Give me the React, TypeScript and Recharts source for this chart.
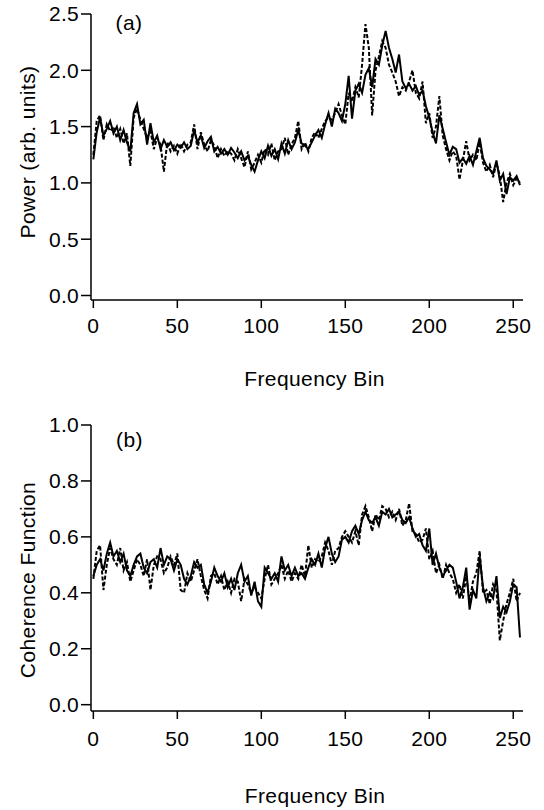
import type { CSSProperties, ReactElement } from 'react';
import { Line, LineChart, XAxis, YAxis } from 'recharts';

// Frequency bins are sampled every 2 bins (0, 2, ... 254)
const BIN_STEP = 2;

const X_TICKS = [0, 50, 100, 150, 200, 250];
const POWER_TICKS = [0, 0.5, 1, 1.5, 2, 2.5];
const COHERENCE_TICKS = [0, 0.2, 0.4, 0.6, 0.8, 1];

// panel (a) power, solid trace
const POWER_SOLID = [
  1.21, 1.45, 1.58, 1.42, 1.48, 1.55, 1.44, 1.5, 1.38, 1.47, 1.36, 1.28, 1.62, 1.7, 1.52, 1.56,
  1.34, 1.53, 1.36, 1.42, 1.3, 1.38, 1.32, 1.36, 1.29, 1.34, 1.31, 1.36, 1.3, 1.33, 1.47, 1.36,
  1.42, 1.31, 1.37, 1.41, 1.28, 1.32, 1.26, 1.3, 1.25, 1.31, 1.27, 1.22, 1.28, 1.2, 1.24, 1.16,
  1.1, 1.2, 1.28, 1.22, 1.33, 1.24, 1.3, 1.21, 1.35, 1.26, 1.38, 1.3, 1.36, 1.47, 1.35, 1.33,
  1.3, 1.36, 1.42, 1.47, 1.4, 1.52, 1.62, 1.5, 1.66, 1.62, 1.55, 1.7, 1.95, 1.57, 1.82, 1.88,
  1.8, 1.96, 2.02, 1.85, 2.1, 2.05, 2.22, 2.35, 2.2, 2.1, 1.98, 2.14, 1.9, 1.84, 1.88, 1.82,
  1.86, 1.78, 1.82, 1.68, 1.58, 1.45, 1.35, 1.6, 1.48, 1.36, 1.25, 1.32, 1.3, 1.18, 1.22, 1.17,
  1.24, 1.16, 1.28, 1.4, 1.22, 1.15, 1.12, 1.08, 1.2, 1.02, 1.08, 0.9, 1.05, 1.02, 1.06, 0.98,
];

// panel (a) power, dashed trace
const POWER_DASHED = [
  1.25, 1.55, 1.6, 1.38, 1.52, 1.46, 1.5, 1.4, 1.48, 1.35, 1.44, 1.15, 1.58, 1.66, 1.56, 1.48,
  1.4, 1.46, 1.3, 1.4, 1.34, 1.1, 1.36, 1.28, 1.33, 1.26, 1.35, 1.28, 1.34, 1.36, 1.52, 1.3,
  1.45, 1.34, 1.28, 1.38, 1.33, 1.22, 1.3, 1.24, 1.28, 1.26, 1.2, 1.3, 1.22, 1.14, 1.28, 1.12,
  1.18, 1.25, 1.18, 1.3, 1.25, 1.35, 1.2, 1.28, 1.3, 1.4, 1.25, 1.34, 1.4, 1.55, 1.3, 1.36,
  1.28, 1.4, 1.45, 1.4, 1.48, 1.55, 1.58, 1.56, 1.62, 1.7, 1.6, 1.52, 1.8, 1.72, 1.85, 1.76,
  2.05, 2.41, 2.2, 1.6, 2.0, 2.12, 2.26, 2.2, 2.05, 1.98, 1.9, 1.77, 1.85, 1.82, 1.9, 2.0,
  1.8, 1.75, 1.9, 1.53, 1.62, 1.4, 1.5, 1.77, 1.42, 1.3, 1.2, 1.28, 1.24, 1.03, 1.2, 1.37,
  1.2, 1.25, 1.2, 1.36, 1.18, 1.1, 1.16, 1.05, 1.18, 1.06, 0.83, 1.0, 1.08, 0.98, 1.04, 1.0,
];

// panel (b) coherence, solid trace
const COHERENCE_SOLID = [
  0.46, 0.5, 0.52, 0.48, 0.54, 0.58, 0.53, 0.55, 0.51, 0.54, 0.48, 0.46, 0.5, 0.53, 0.54, 0.49,
  0.47, 0.51, 0.52, 0.49, 0.56, 0.5, 0.53, 0.52, 0.48, 0.52, 0.5, 0.45, 0.43, 0.46, 0.51, 0.49,
  0.5, 0.43, 0.4, 0.44, 0.49, 0.46, 0.44, 0.47, 0.42, 0.45, 0.41, 0.47, 0.5, 0.44, 0.46, 0.39,
  0.44, 0.37, 0.35, 0.49, 0.47, 0.45, 0.47, 0.44, 0.53, 0.48, 0.5, 0.46, 0.49, 0.46, 0.47, 0.45,
  0.49, 0.52, 0.5, 0.54, 0.49, 0.56, 0.6, 0.54, 0.51, 0.53, 0.59, 0.6, 0.58, 0.62, 0.64, 0.61,
  0.66, 0.69, 0.66, 0.65, 0.67, 0.64, 0.69, 0.68, 0.7, 0.67, 0.68, 0.69, 0.66, 0.65, 0.67, 0.63,
  0.6, 0.61, 0.57, 0.55, 0.63, 0.5, 0.54, 0.49, 0.46, 0.48, 0.5, 0.49, 0.44, 0.38, 0.42, 0.49,
  0.34, 0.41, 0.38, 0.53, 0.42, 0.37, 0.4, 0.38, 0.46, 0.31, 0.35, 0.33, 0.37, 0.43, 0.42, 0.24,
];

// panel (b) coherence, dashed trace
const COHERENCE_DASHED = [
  0.45, 0.55, 0.57, 0.41, 0.5, 0.56, 0.52, 0.5, 0.56, 0.48, 0.51, 0.44, 0.48, 0.52, 0.5, 0.46,
  0.52, 0.41, 0.5, 0.53, 0.52, 0.47, 0.49, 0.53, 0.5, 0.54, 0.41, 0.4, 0.47, 0.44, 0.48, 0.52,
  0.46, 0.41, 0.38, 0.46, 0.47, 0.43, 0.46, 0.41, 0.44, 0.4, 0.45, 0.44, 0.37, 0.45, 0.43, 0.4,
  0.42, 0.4, 0.38, 0.45, 0.5, 0.43, 0.45, 0.47, 0.5, 0.45, 0.48, 0.44, 0.47, 0.45, 0.5, 0.46,
  0.57, 0.49, 0.52, 0.51, 0.53, 0.58, 0.55, 0.5, 0.55, 0.56, 0.6, 0.62, 0.6, 0.58, 0.62, 0.57,
  0.68, 0.71, 0.67, 0.62, 0.68, 0.66, 0.71, 0.7, 0.67, 0.69, 0.66, 0.7, 0.64, 0.66, 0.72, 0.62,
  0.61, 0.58, 0.59, 0.63, 0.52, 0.55, 0.47, 0.5, 0.45, 0.5, 0.47, 0.45, 0.4, 0.43, 0.38, 0.46,
  0.37, 0.44, 0.47, 0.55, 0.4, 0.41, 0.36, 0.43, 0.41, 0.23, 0.3, 0.36, 0.4, 0.45, 0.37, 0.4,
];

const FONT = '"Liberation Sans", Arial, Helvetica, sans-serif';
const INK = '#000';
const FONT_SIZE = 21;

function buildRows(solid: number[], dashed: number[]) {
  return solid.map((v, i) => ({ bin: i * BIN_STEP, solid: v, dashed: dashed[i] }));
}

interface PanelProps {
  top: number;
  height: number;
  margin: { top: number; right: number; bottom: number; left: number };
  rows: { bin: number; solid: number; dashed: number }[];
  yDomain: [number, number];
  yTicks: number[];
  xTickMargin: number;
}

function Panel({ top, height, margin, rows, yDomain, yTicks, xTickMargin }: PanelProps): ReactElement {
  const tick = { fill: INK, fontSize: FONT_SIZE, fontFamily: FONT, letterSpacing: 0.3 };
  return (
    <div style={{ position: 'absolute', left: 0, top }}>
      <LineChart width={544} height={height} data={rows} margin={margin}>
        <XAxis
          dataKey="bin"
          type="number"
          domain={[-1.4, 255.8]}
          allowDataOverflow
          ticks={X_TICKS}
          tick={tick}
          tickSize={8}
          tickMargin={xTickMargin}
          stroke={INK}
          strokeWidth={1.5}
        />
        <YAxis
          type="number"
          domain={yDomain}
          allowDataOverflow
          ticks={yTicks}
          tickFormatter={(v: number) => v.toFixed(1)}
          tick={tick}
          tickSize={10}
          tickMargin={2}
          width={91}
          stroke={INK}
          strokeWidth={1.5}
        />
        <Line
          dataKey="dashed"
          stroke={INK}
          strokeWidth={2}
          strokeDasharray="4 2"
          dot={false}
          isAnimationActive={false}
        />
        <Line dataKey="solid" stroke={INK} strokeWidth={2} dot={false} isAnimationActive={false} />
      </LineChart>
    </div>
  );
}

function Caption({ x, y, text, rotate }: { x: number; y: number; text: string; rotate?: boolean }) {
  const style: CSSProperties = {
    position: 'absolute',
    left: x,
    top: y,
    transform: `translate(-50%, -50%)${rotate ? ' rotate(-90deg)' : ''}`,
    fontFamily: FONT,
    fontSize: FONT_SIZE,
    lineHeight: `${FONT_SIZE}px`,
    letterSpacing: 0.4,
    color: INK,
    whiteSpace: 'nowrap',
  };
  return <div style={style}>{text}</div>;
}

export default function App(): ReactElement {
  const powerRows = buildRows(POWER_SOLID, POWER_DASHED);
  const coherenceRows = buildRows(COHERENCE_SOLID, COHERENCE_DASHED);

  return (
    <div style={{ position: 'absolute', left: 0, top: 0, width: 544, height: 810, background: '#fff' }}>
      <Panel
        top={0}
        height={400}
        margin={{ top: 14, right: 21, bottom: 70, left: 0 }}
        rows={powerRows}
        yDomain={[-0.04, 2.5]}
        yTicks={POWER_TICKS}
        xTickMargin={10}
      />
      <Panel
        top={400}
        height={410}
        margin={{ top: 25, right: 21, bottom: 69, left: 0 }}
        rows={coherenceRows}
        yDomain={[-0.0226, 1]}
        yTicks={COHERENCE_TICKS}
        xTickMargin={12}
      />
      <Caption x={129} y={22} text="(a)" />
      <Caption x={129.5} y={439} text="(b)" />
      <Caption x={27} y={152} text="Power (arb. units)" rotate />
      <Caption x={26.5} y={580} text="Coherence Function" rotate />
      <Caption x={314.5} y={378} text="Frequency Bin" />
      <Caption x={315} y={795} text="Frequency Bin" />
    </div>
  );
}
